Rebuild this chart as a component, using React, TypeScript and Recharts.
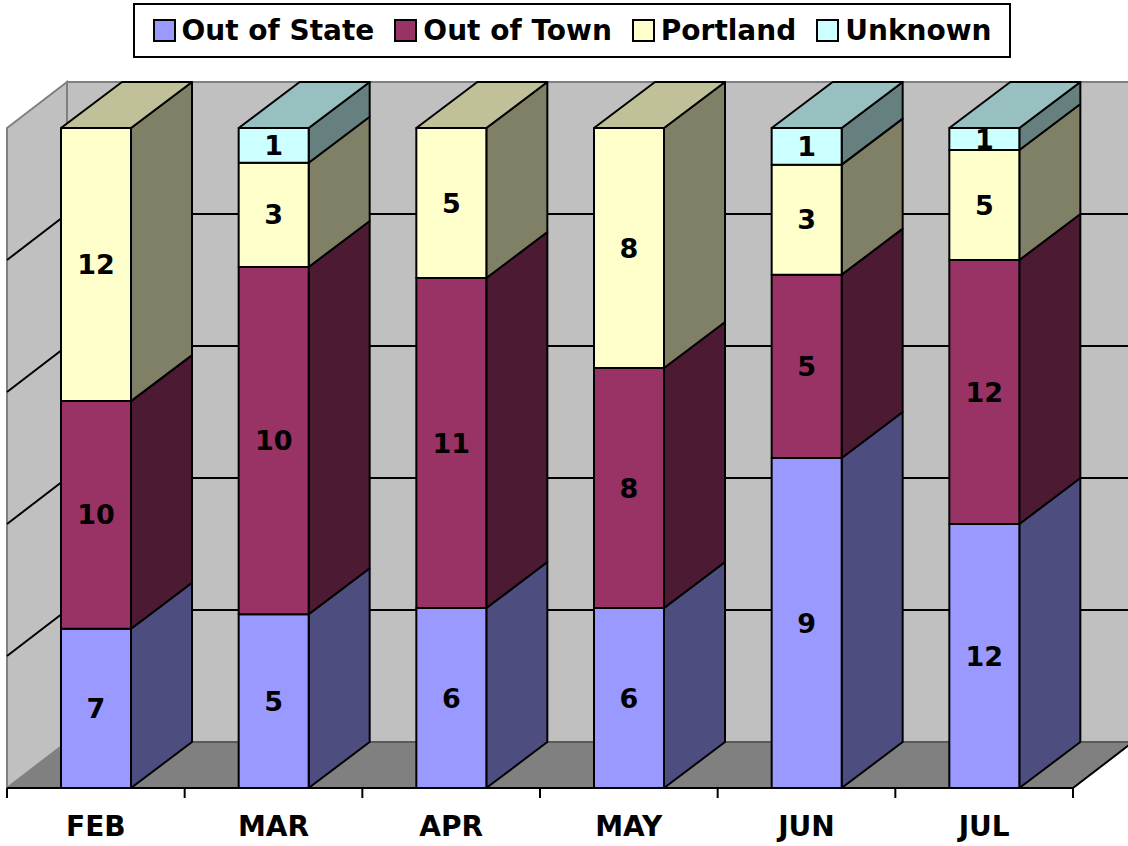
import React from 'react';
import { BarChart, Bar, XAxis, YAxis, ReferenceArea, LabelList, Legend } from 'recharts';

// ---- data ----
const months = ['FEB', 'MAR', 'APR', 'MAY', 'JUN', 'JUL'];
const outOfState = [7, 5, 6, 6, 9, 12];
const outOfTown = [10, 10, 11, 8, 5, 12];
const portland = [12, 3, 5, 8, 3, 5];
const unknown = [0, 1, 0, 0, 1, 1];
const yTicks = [0, 0.2, 0.4, 0.6, 0.8, 1];
const gridValues = [0.2, 0.4, 0.6, 0.8];

const seriesKeys = ['outOfState', 'outOfTown', 'portland', 'unknown'];
const seriesNames = ['Out of State', 'Out of Town', 'Portland', 'Unknown'];
const frontColors = ['#9999FF', '#993366', '#FFFFCC', '#CCFFFF'];
const sideColors = ['#4D4D80', '#4D1A33', '#808066', '#668080'];
const topColors = ['#7373BF', '#732650', '#C0C099', '#99C0C0'];

const data = months.map((m, i) => ({
  month: m,
  outOfState: outOfState[i],
  outOfTown: outOfTown[i],
  portland: portland[i],
  unknown: unknown[i],
}));

const FONT = "'DejaVu Sans', Verdana, sans-serif";
const BAR_DX = 61;
const BAR_DY = 46;
const WALL_DX = 60;
const WALL_DY = 46;

const makeShape = (si: number) => (props: any) => {
  const { x, y, width, height, payload } = props;
  const key = seriesKeys[si];
  if (!height || height <= 0 || !payload || !payload[key]) return <g />;
  const isTop = seriesKeys.slice(si + 1).every((k) => !payload[k]);
  const r = x + width;
  const b = y + height;
  return (
    <g strokeLinejoin="round">
      <polygon
        points={`${r},${y} ${r + BAR_DX},${y - BAR_DY} ${r + BAR_DX},${b - BAR_DY} ${r},${b}`}
        fill={sideColors[si]}
        stroke="#000"
        strokeWidth={2}
      />
      {isTop && (
        <polygon
          points={`${x},${y} ${x + BAR_DX},${y - BAR_DY} ${r + BAR_DX},${y - BAR_DY} ${r},${y}`}
          fill={topColors[si]}
          stroke="#000"
          strokeWidth={2}
        />
      )}
      <rect x={x} y={y} width={width} height={height} fill={frontColors[si]} stroke="#000" strokeWidth={2} />
    </g>
  );
};

const renderLabel = (props: any) => {
  const vb = props.viewBox && props.viewBox.width !== undefined ? props.viewBox : props;
  const { x, y, width, height } = vb;
  const value = props.value;
  if (!value) return null;
  return (
    <text
      x={x + width / 2}
      y={y + height / 2}
      textAnchor="middle"
      dominantBaseline="central"
      fontFamily={FONT}
      fontWeight="bold"
      fontSize={27}
      fill="#000"
    >
      {value}
    </text>
  );
};

const Walls = (props: any) => {
  const { x, y, width, height } = props;
  const b = y + height;
  const r = x + width;
  return (
    <g>
      <polygon
        points={`${x},${y} ${x + WALL_DX},${y - WALL_DY} ${x + WALL_DX},${b - WALL_DY} ${x},${b}`}
        fill="#C0C0C0"
        stroke="#808080"
        strokeWidth={2}
      />
      <rect x={x + WALL_DX} y={y - WALL_DY} width={width} height={height} fill="#C0C0C0" stroke="#808080" strokeWidth={2} />
      <polygon
        points={`${x},${b} ${r},${b} ${r + WALL_DX},${b - WALL_DY} ${x + WALL_DX},${b - WALL_DY}`}
        fill="#808080"
        stroke="none"
      />
      <line x1={x + WALL_DX} y1={b - WALL_DY} x2={r + WALL_DX} y2={b - WALL_DY} stroke="#5A5A5A" strokeWidth={2} />
      <line x1={r} y1={b} x2={r + WALL_DX} y2={b - WALL_DY} stroke="#000" strokeWidth={2} />
    </g>
  );
};

// grid line drawn at the top edge of an area spanning 0..value
const GridLine = (props: any) => {
  const { x, y, width } = props;
  return (
    <polyline
      points={`${x},${y} ${x + WALL_DX},${y - WALL_DY} ${x + width + WALL_DX},${y - WALL_DY}`}
      fill="none"
      stroke="#000"
      strokeWidth={2}
    />
  );
};

const XTick = (props: any) => {
  const { x, y, payload, index, visibleTicksCount } = props;
  const half = payload && typeof payload.offset === 'number' && payload.offset > 0 ? payload.offset : 88.8;
  return (
    <g>
      <line x1={x - half} y1={y} x2={x - half} y2={y + 10} stroke="#000" strokeWidth={2} />
      {index === visibleTicksCount - 1 && (
        <line x1={x + half} y1={y} x2={x + half} y2={y + 10} stroke="#000" strokeWidth={2} />
      )}
      <text x={x} y={y + 48} textAnchor="middle" fontFamily={FONT} fontWeight="bold" fontSize={28} fill="#000">
        {payload.value}
      </text>
    </g>
  );
};

const LegendBox = () => (
  <div
    style={{
      boxSizing: 'border-box',
      width: 878,
      height: 55,
      border: '2px solid #000',
      background: '#fff',
      display: 'flex',
      alignItems: 'center',
      justifyContent: 'center',
      fontFamily: FONT,
      fontWeight: 'bold',
      fontSize: 28,
      color: '#000',
      whiteSpace: 'nowrap',
    }}
  >
    {seriesNames.map((n, i) => (
      <div key={n} style={{ display: 'flex', alignItems: 'center', marginLeft: i === 0 ? 0 : 20 }}>
        <span
          style={{
            display: 'inline-block',
            boxSizing: 'border-box',
            width: 23,
            height: 23,
            border: '2px solid #000',
            background: frontColors[i],
            marginRight: 6,
          }}
        />
        <span style={{ lineHeight: '30px' }}>{n}</span>
      </div>
    ))}
  </div>
);

export default function App() {
  return (
    <div style={{ position: 'absolute', left: 0, top: 0, width: 1128, height: 846, background: '#fff' }}>
      <BarChart
        width={1128}
        height={846}
        data={data}
        stackOffset="expand"
        margin={{ top: 128, right: 55, bottom: 8, left: 7 }}
      >
        <XAxis
          dataKey="month"
          height={50}
          axisLine={{ stroke: '#000', strokeWidth: 2 }}
          tickLine={false}
          tickSize={0}
          tickMargin={0}
          tick={<XTick />}
          interval={0}
        />
        <YAxis hide type="number" domain={[0, 1]} ticks={yTicks} />
        <ReferenceArea y1={0} y2={1} shape={Walls} ifOverflow="visible" />
        {gridValues.map((v) => (
          <ReferenceArea key={v} y1={0} y2={v} shape={GridLine} ifOverflow="visible" />
        ))}
        {seriesKeys.map((k, i) => (
          <Bar
            key={k}
            dataKey={k}
            name={seriesNames[i]}
            stackId="a"
            barSize={70}
            fill={frontColors[i]}
            shape={makeShape(i)}
            isAnimationActive={false}
          >
            <LabelList dataKey={k} position="center" content={renderLabel} />
          </Bar>
        ))}
        <Legend
          verticalAlign="middle"
          align="center"
          content={<LegendBox />}
          wrapperStyle={{ position: 'absolute', top: 3, left: 133, width: 878, height: 55 }}
        />
      </BarChart>
    </div>
  );
}
